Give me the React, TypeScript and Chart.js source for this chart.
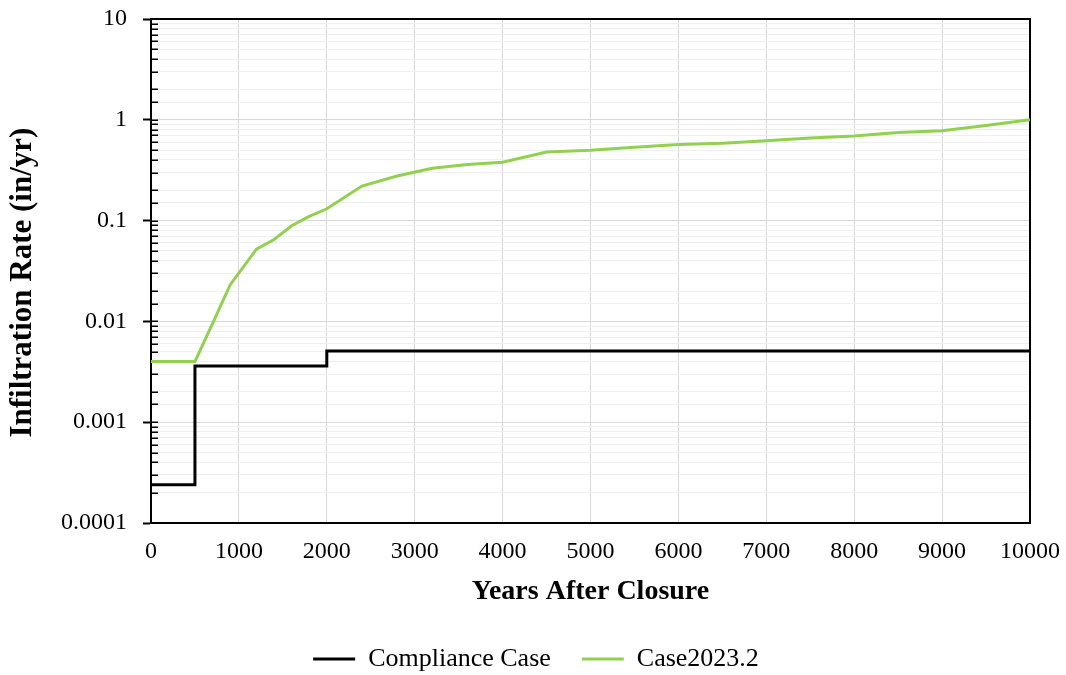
import React, { useEffect, useRef } from 'react';
import { Chart, registerables } from 'chart.js';

Chart.register(...registerables);

// ---- data ----
const seriesNames = ['Compliance Case', 'Case2023.2'];
const complianceYears = [0, 500, 2000, 10000];
const complianceRates = [0.00024, 0.0036, 0.0051, 0.0051];
const caseYears = [0, 500, 700, 900, 1200, 1400, 1600, 1800, 2000, 2400, 2800, 3200, 3600, 4000, 4500, 5000, 5500, 6000, 6500, 7000, 7500, 8000, 8500, 9000, 9500, 10000];
const caseRates = [0.004, 0.004, 0.0095, 0.023, 0.052, 0.065, 0.089, 0.11, 0.131, 0.22, 0.277, 0.33, 0.36, 0.38, 0.48, 0.5, 0.535, 0.57, 0.585, 0.62, 0.66, 0.69, 0.75, 0.78, 0.88, 1.0];
const yTickLabels = ['0.0001', '0.001', '0.01', '0.1', '1', '10'];
const xTitle = 'Years After Closure';
const yTitle = 'Infiltration Rate (in/yr)';

const FONT = "'Liberation Serif', 'Times New Roman', serif";

const framePlugin = {
  id: 'frame',
  afterLayout(chart: any) {
    const lg = chart.legend;
    if (lg) {
      const dx = 21;
      const dy = 7;
      lg.left += dx;
      lg.right += dx;
      lg.top += dy;
      lg.bottom += dy;
    }
  },
  beforeDatasetsDraw(chart: any) {
    const { ctx, chartArea } = chart;
    const { left, top, right, bottom } = chartArea;
    const y = chart.scales.y;
    ctx.save();
    ctx.strokeStyle = '#000';
    ctx.lineWidth = 1.5;
    y.ticks.forEach((t: any) => {
      const py = Math.round(y.getPixelForValue(t.value)) + 0.25;
      ctx.beginPath();
      ctx.moveTo(left, py);
      ctx.lineTo(left + 7, py);
      ctx.stroke();
    });
    ctx.lineWidth = 2;
    ctx.beginPath();
    ctx.moveTo(left, top);
    ctx.lineTo(right, top);
    ctx.lineTo(right, bottom);
    ctx.stroke();
    ctx.restore();
  },
};

function isMajor(v: number) {
  const l = Math.log10(v);
  return Math.abs(l - Math.round(l)) < 1e-6;
}

export default function App() {
  const ref = useRef<HTMLCanvasElement>(null);
  useEffect(() => {
    if (!ref.current) return;
    const chart = new Chart(ref.current, {
      type: 'line',
      data: {
        datasets: [
          {
            label: seriesNames[0],
            data: complianceYears.map((x, i) => ({ x, y: complianceRates[i] })),
            borderColor: '#000000',
            backgroundColor: '#000000',
            borderWidth: 3,
            pointRadius: 0,
            stepped: 'before',
            fill: false,
          },
          {
            label: seriesNames[1],
            data: caseYears.map((x, i) => ({ x, y: caseRates[i] })),
            borderColor: '#92d050',
            backgroundColor: '#92d050',
            borderWidth: 3,
            pointRadius: 0,
            tension: 0,
            fill: false,
          },
        ],
      },
      options: {
        animation: false,
        responsive: false,
        devicePixelRatio: 1,
        layout: { padding: { top: 19, right: 36, bottom: 0, left: 0 } },
        plugins: {
          tooltip: { enabled: false },
          legend: {
            position: 'bottom',
            labels: {
              color: '#000',
              font: { family: FONT, size: 26 },
              boxWidth: 42,
              boxHeight: 3,
              padding: 31,
              generateLabels: (ch: any) =>
                ch.data.datasets.map((ds: any, i: number) => ({
                  text: ds.label,
                  fillStyle: ds.borderColor,
                  strokeStyle: ds.borderColor,
                  lineWidth: 0,
                  hidden: false,
                  datasetIndex: i,
                  fontColor: '#000',
                })),
            },
          },
        },
        scales: {
          x: {
            type: 'linear',
            min: 0,
            max: 10000,
            afterFit: (s: any) => {
              s.height = 85;
            },
            ticks: {
              stepSize: 1000,
              color: '#000',
              font: { family: FONT, size: 24, lineHeight: 2 },
              padding: 5,
              maxRotation: 0,
              autoSkip: false,
              callback: (v: any) => String(v),
            },
            grid: { color: '#d9d9d9', lineWidth: 1, drawTicks: false },
            border: { color: '#000', width: 2 },
            title: {
              display: true,
              text: xTitle,
              color: '#000',
              font: { family: FONT, size: 28, weight: 'bold', lineHeight: 1 },
              padding: { top: 0, bottom: 2 },
            },
          },
          y: {
            type: 'logarithmic',
            min: 0.0001,
            max: 10,
            afterFit: (s: any) => {
              s.width = 151;
            },
            ticks: {
              color: '#000',
              font: { family: FONT, size: 24, lineHeight: 0.1 },
              padding: 16,
              autoSkip: false,
              callback: (v: any) => {
                const n = Number(v);
                if (!isMajor(n)) return '';
                return yTickLabels[Math.round(Math.log10(n)) + 4] ?? '';
              },
            },
            grid: {
              color: (c: any) => (c.tick && isMajor(c.tick.value) ? '#d9d9d9' : '#efefef'),
              lineWidth: 1,
              tickLength: 8,
              tickWidth: 2,
              tickColor: (c: any) => (c.tick && isMajor(c.tick.value) ? '#000' : 'rgba(0,0,0,0)'),
            },
            border: { color: '#000', width: 2 },
            title: {
              display: true,
              text: yTitle + '   ',
              color: '#000',
              font: { family: FONT, size: 31, weight: 'bold', lineHeight: 1 },
              padding: { top: 7, bottom: 0 },
            },
          },
        },
      },
      plugins: [framePlugin],
    } as any);
    return () => chart.destroy();
  }, []);
  return (
    <div style={{ position: 'absolute', left: 0, top: 0, width: 1066, height: 675, background: '#fff' }}>
      <canvas ref={ref} width={1066} height={675} style={{ display: 'block' }} />
    </div>
  );
}
